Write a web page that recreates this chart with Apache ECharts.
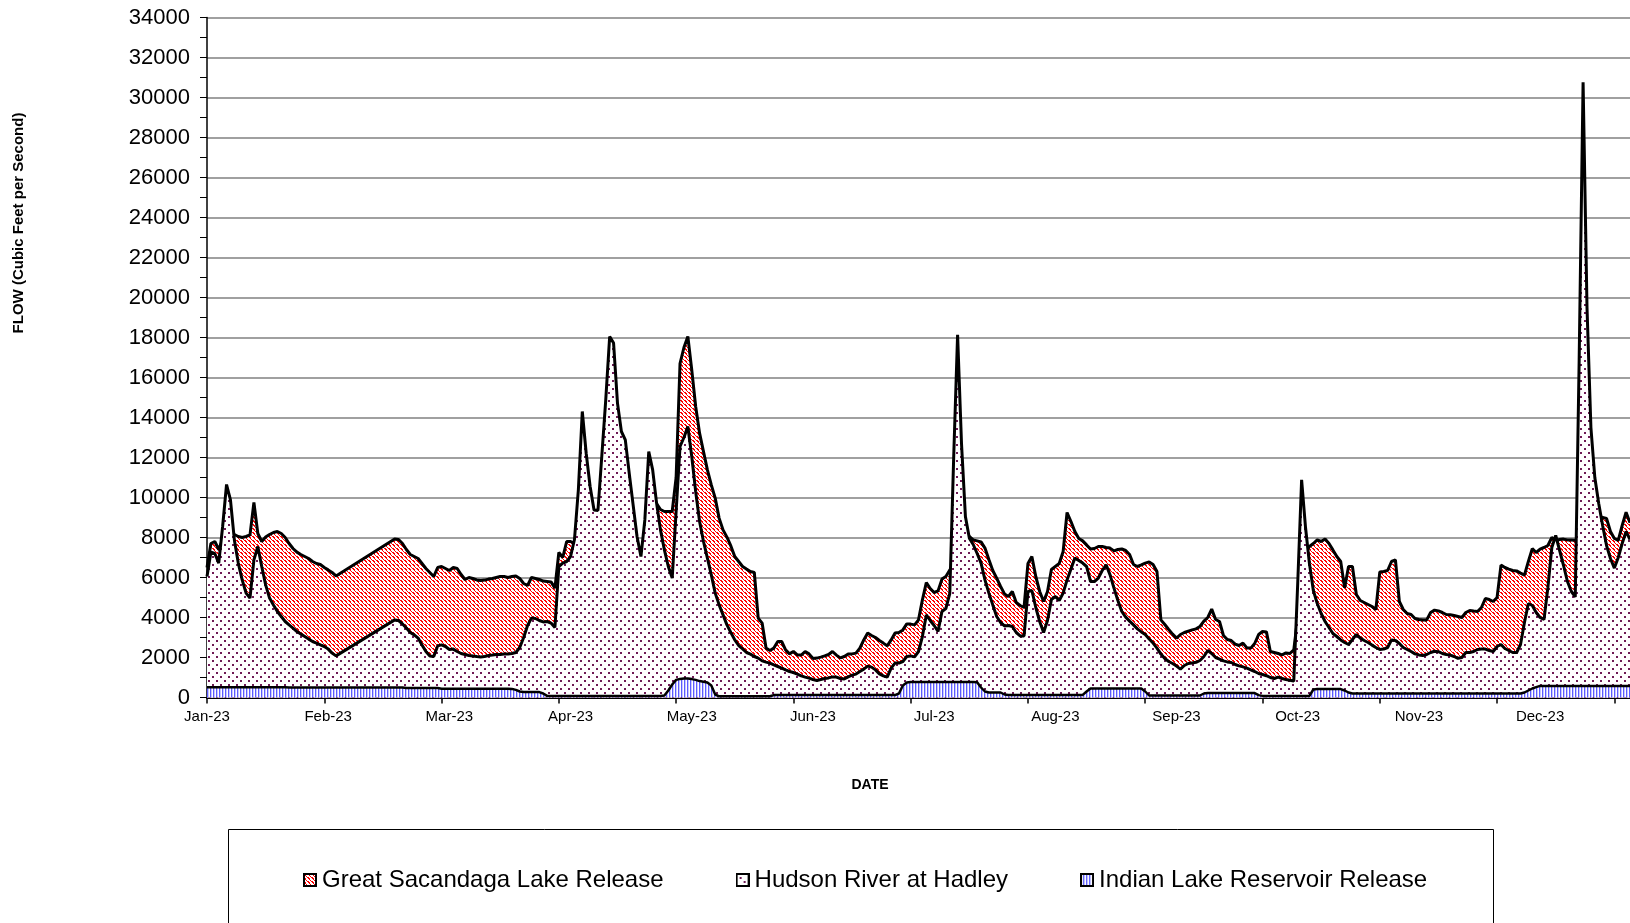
<!DOCTYPE html>
<html>
<head>
<meta charset="utf-8">
<script src="https://cdn.jsdelivr.net/npm/echarts@6/dist/echarts.min.js"></script>
<style>
html, body { margin: 0; padding: 0; background: #fff; }
#chart { width: 1630px; height: 923px; }
</style>
</head>
<body>
<div id="chart"></div>
<script>
// day 0 = 1 Jan 2023, one value per day (null = no reading, line is joined)
var monthLabels = ['Jan-23', 'Feb-23', 'Mar-23', 'Apr-23', 'May-23', 'Jun-23',
  'Jul-23', 'Aug-23', 'Sep-23', 'Oct-23', 'Nov-23', 'Dec-23'];
var labelDays = [0, 31, 62, 93, 124, 155, 186, 217, 248, 279, 310, 341];
var tickDays = [0, 30, 60, 90, 120, 150, 180, 210, 240, 270, 300, 330, 360];
var seriesNames = ['Great Sacandaga Lake Release', 'Hudson River at Hadley', 'Indian Lake Reservoir Release'];

var sacandaga = [
  6500, 7700, 7800, 7400, 7900, 8100, 8100, 8150, 8050, 8000,
  8050, 8130, 9750, 8200, 7800, 8020, 8150, 8250, 8300, 8200,
  8000, 7700, 7450, 7270, 7150, 7050, 6950, 6800, 6700, 6650,
  6500, 6380, 6250, 6080, null, null, null, null, null, null,
  null, null, null, null, null, null, null, null, 7920, 7900,
  7700, 7400, 7150, 7050, 6950, 6700, 6450, 6250, 6050, 6500,
  6550, 6450, 6350, 6500, 6450, 6150, 5900, 6000, 5950, 5880,
  5850, 5870, 5920, 5950, 6000, 6050, 6050, 6000, 6050, 6080,
  5950, 5700, 5600, 6000, 5950, 5900, 5820, 5800, 5780, 5470,
  7250, 7000, 7800, 7800, 7700, 7800, 8000, 8000, 8000, 8200,
  8200, 8200, 8200, 8000, 8000, 7900, 7800, 7700, 7600, 7500,
  7400, 7300, 7500, 9000, 9880, 9700, 9400, 9300, 9300, 9300,
  11000, 16700, 17500, 18050, 16380, 14550, 13220, 12300, 11380, 10630,
  9970, 8970, 8380, 8020, 7580, 7050, 6800, 6550, 6420, 6300,
  6250, 3970, 3720, 2470, 2350, 2470, 2800, 2800, 2380, 2180,
  2300, 2130, 2120, 2300, 2180, 1950, 1970, 2020, 2080, 2150,
  2300, 2120, 1980, 2050, 2170, 2180, 2220, 2470, 2880, 3220,
  3100, 3000, 2850, 2720, 2580, 2880, 3220, 3250, 3380, 3680,
  3670, 3630, 3880, 4880, 5750, 5450, 5250, 5330, 5920, 6050,
  6380, 6500, 7000, 7500, 8000, 8050, 7880, 7830, 7780, 7470,
  6900, 6350, 5970, 5550, 5180, 5050, 5300, 4750, 4600, 4500,
  6700, 7050, 6050, 5300, 4800, 5300, 6400, 6550, 6700, 7300,
  9250, 8800, 8300, 7950, 7830, 7630, 7420, 7450, 7550, 7550,
  7500, 7470, 7330, 7400, 7430, 7350, 7150, 6650, 6550, 6630,
  6720, 6780, 6650, 6300, 3880, 3650, 3400, 3170, 2970, 3150,
  3250, 3320, 3380, 3430, 3550, 3820, 4000, 4420, 3900, 3800,
  3100, 2900, 2850, 2670, 2600, 2720, 2480, 2470, 2700, 3150,
  3300, 3280, 2300, 2250, 2200, 2130, 2230, 2200, 2380, 4000,
  6500, 7300, 7550, 7700, 7880, 7800, 7930, 7700, 7380, 7050,
  6800, 5480, 6550, 6550, 5150, 4850, 4750, 4650, 4550, 4400,
  6280, 6300, 6350, 6800, 6880, 4800, 4400, 4200, 4150, 3950,
  3900, 3880, 3880, 4250, 4370, 4330, 4250, 4150, 4140, 4100,
  4050, 4000, 4250, 4350, 4320, 4300, 4500, 4950, 4900, 4800,
  5000, 6620, 6500, 6420, 6350, 6330, 6220, 6120, 6800, 7440,
  7250, 7420, 7500, 7600, 8000, 7850, 7900, 7920, 7880, 7880,
  7860, 8000, 8500, 9000, 9000, 9000, 9090, 9000, 8950, 8300,
  7950, 7860, 8600, 9260, 8740
];

var hadley = [
  6050, 7270, 7200, 6720, 8550, 10650, 9880, 7880, 6720, 5880,
  5220, 4970, 6880, 7550, 6550, 5630, 4970, 4630, 4300, 4050,
  3800, 3630, 3470, 3300, 3170, 3050, 2920, 2800, 2720, 2630,
  2550, 2420, 2220, 2080, null, null, null, null, null, null,
  null, null, null, null, null, null, null, null, 3880, 3850,
  3680, 3470, 3250, 3130, 2970, 2630, 2300, 2080, 2050, 2580,
  2630, 2550, 2400, 2420, 2300, 2200, 2150, 2100, 2080, 2050,
  2030, 2050, 2100, 2120, 2150, 2150, 2170, 2170, 2200, 2250,
  2500, 3000, 3600, 3970, 3950, 3850, 3780, 3800, 3720, 3500,
  6550, 6720, 6800, 7050, 7900, 10400, 14300, 12200, 10550, 9380,
  9350, 12100, 14880, 18050, 17720, 14720, 13300, 12880, 11220, 9630,
  8050, 7050, 8880, 12300, 11380, 9720, 8380, 7380, 6550, 5970,
  9300, 12550, 13000, 13550, 12050, 10300, 8800, 7800, 6970, 6130,
  5220, 4630, 4130, 3630, 3250, 2880, 2600, 2430, 2250, 2170,
  2050, 1970, 1830, 1770, 1720, 1630, 1550, 1470, 1380, 1300,
  1250, 1170, 1080, 1020, 970, 900, 850, 900, 950, 980,
  1030, 1020, 950, 930, 1030, 1120, 1170, 1300, 1420, 1570,
  1520, 1380, 1180, 1080, 1020, 1470, 1720, 1720, 1800, 2050,
  2080, 2030, 2300, 3050, 4130, 3850, 3600, 3300, 4300, 4450,
  5200, 12000, 18130, 12700, 9050, 7970, 7650, 7200, 6720, 5880,
  5220, 4630, 4050, 3750, 3580, 3600, 3550, 3250, 3080, 3080,
  5300, 5350, 4500, 3800, 3250, 3850, 4900, 5050, 4850, 5220,
  5880, 6420, 6970, 6850, 6720, 6550, 5800, 5800, 5970, 6350,
  6630, 6130, 5470, 4850, 4300, 4020, 3820, 3630, 3430, 3280,
  3150, 2930, 2720, 2470, 2170, 1950, 1800, 1700, 1570, 1420,
  1600, 1700, 1730, 1760, 1850, 2050, 2350, 2200, 2000, 1920,
  1830, 1780, 1750, 1650, 1580, 1530, 1470, 1380, 1300, 1200,
  1150, 1090, 1000, 950, 1020, 950, 900, 860, 820, 5700,
  10880, 8500, 6700, 5350, 4700, 4200, 3800, 3500, 3200, 3050,
  2880, 2750, 2650, 2900, 3150, 2970, 2850, 2750, 2620, 2500,
  2400, 2420, 2500, 2880, 2850, 2700, 2500, 2400, 2300, 2180,
  2130, 2100, 2150, 2250, 2310, 2290, 2200, 2150, 2120, 2050,
  1960, 2000, 2250, 2250, 2300, 2400, 2420, 2420, 2350, 2300,
  2550, 2650, 2450, 2350, 2250, 2250, 2650, 3750, 4700, 4600,
  4250, 4000, 3900, 5500, 7500, 8100, 7350, 6600, 5800, 5300,
  5030, 16900, 30760, 19500, 13500, 11000, 9700, 8600, 7600, 6950,
  6470, 7000, 7700, 8300, 7900
];

var indianLake = [
  510, 510, 510, 510, 510, 510, 510, 510, 510, 510,
  510, 510, 510, 510, 510, 510, 510, 510, 510, 510,
  510, 500, 500, 500, 500, 500, 500, 500, 500, 500,
  500, 500, 500, 500, 500, 500, 500, 500, 500, 500,
  500, 500, 500, 500, 500, 500, 500, 500, 500, 500,
  500, 470, 470, 470, 470, 470, 470, 470, 470, 470,
  440, 440, 440, 440, 440, 440, 440, 440, 440, 440,
  440, 440, 440, 440, 440, 440, 440, 440, 430, 380,
  300, 270, 270, 270, 270, 270, 200, 80, 80, 80,
  80, 80, 80, 80, 80, 80, 80, 80, 80, 80,
  80, 80, 80, 80, 80, 80, 80, 80, 80, 80,
  80, 80, 80, 80, 80, 80, 80, 100, 350, 650,
  880, 930, 950, 950, 920, 880, 820, 790, 750, 600,
  150, 60, 60, 60, 60, 60, 60, 60, 60, 60,
  60, 60, 60, 60, 60, 120, 120, 120, 120, 120,
  120, 120, 120, 120, 120, 120, 120, 120, 120, 120,
  120, 120, 120, 120, 120, 120, 120, 120, 120, 120,
  120, 120, 120, 120, 120, 120, 120, 200, 600, 750,
  780, 780, 780, 780, 780, 780, 780, 780, 780, 780,
  780, 780, 780, 780, 780, 780, 780, 760, 500, 300,
  250, 250, 250, 250, 150, 130, 130, 130, 130, 130,
  130, 130, 130, 130, 130, 130, 130, 130, 130, 130,
  130, 130, 130, 130, 130, 300, 450, 450, 450, 450,
  450, 450, 450, 450, 450, 450, 450, 450, 450, 450,
  300, 100, 100, 100, 100, 100, 100, 100, 100, 100,
  100, 100, 100, 100, 100, 200, 220, 220, 220, 220,
  220, 220, 220, 220, 220, 220, 220, 220, 220, 120,
  80, 80, 80, 80, 80, 80, 80, 80, 80, 80,
  80, 80, 80, 400, 420, 420, 420, 420, 420, 420,
  420, 350, 250, 200, 200, 200, 200, 200, 200, 200,
  200, 200, 200, 200, 200, 200, 200, 200, 200, 200,
  200, 200, 200, 200, 200, 200, 200, 200, 200, 200,
  200, 200, 200, 200, 200, 200, 200, 200, 200, 200,
  200, 200, 200, 200, 200, 200, 200, 250, 350, 450,
  520, 580, 580, 580, 580, 580, 580, 580, 580, 580,
  580, 580, 580, 580, 580, 580, 580, 580, 580, 580,
  580, 580, 580, 580, 580
];

function toPairs(arr) {
  var out = [];
  for (var i = 0; i < arr.length; i++) {
    if (arr[i] != null) out.push([i, arr[i]]);
  }
  return out;
}

function makeTile(w, h, paint) {
  var c = document.createElement('canvas');
  c.width = w;
  c.height = h;
  var ctx = c.getContext('2d');
  ctx.fillStyle = '#fff';
  ctx.fillRect(0, 0, w, h);
  paint(ctx);
  return c;
}

// red "\" hatch, dashed diagonals
var hatchTile = makeTile(8, 8, function (ctx) {
  ctx.fillStyle = '#ff0000';
  for (var y = 0; y < 8; y++) {
    for (var x = 0; x < 8; x++) {
      var k = (x - y + 8) % 4;
      if (k === 0 || (k === 1 && y % 4 < 2)) ctx.fillRect(x, y, 1, 1);
    }
  }
});
// purple dots
var dotTile = makeTile(8, 8, function (ctx) {
  ctx.fillStyle = '#6e1a55';
  ctx.fillRect(0, 0, 2, 2);
  ctx.fillRect(4, 4, 2, 2);
});
// blue vertical stripes
var stripeTile = makeTile(3, 3, function (ctx) {
  ctx.fillStyle = '#5c5cff';
  ctx.fillRect(0, 0, 1, 3);
  ctx.fillStyle = '#c8c8ff';
  ctx.fillRect(1, 0, 1, 3);
});

function legendIcon(tile) {
  var c = document.createElement('canvas');
  c.width = 14;
  c.height = 14;
  var ctx = c.getContext('2d');
  ctx.fillStyle = ctx.createPattern(tile, 'repeat');
  ctx.fillRect(0, 0, 14, 14);
  ctx.strokeStyle = '#000';
  ctx.lineWidth = 2;
  ctx.strokeRect(1, 1, 12, 12);
  return 'image://' + c.toDataURL();
}

var font = 'Liberation Sans, Arial, sans-serif';

var option = {
  animation: false,
  backgroundColor: '#fff',
  textStyle: { fontFamily: font },
  grid: { left: 207, right: 0, top: 17.5, bottom: 225.5 },
  legend: {
    left: 298,
    top: 861,
    itemWidth: 14,
    itemHeight: 14,
    itemGap: 72,
    selectedMode: false,
    textStyle: { fontSize: 24, color: '#000', lineHeight: 28, fontFamily: font },
    data: [
      { name: seriesNames[0], icon: legendIcon(hatchTile) },
      { name: seriesNames[1], icon: legendIcon(dotTile) },
      { name: seriesNames[2], icon: legendIcon(stripeTile) }
    ]
  },
  xAxis: {
    type: 'value',
    min: 0,
    max: 364,
    axisLine: { show: true, lineStyle: { color: '#000', width: 2 } },
    axisTick: { show: true, length: 6, customValues: tickDays, lineStyle: { color: '#000', width: 1.5 } },
    axisLabel: {
      customValues: labelDays,
      fontSize: 15,
      color: '#000',
      margin: 12,
      formatter: function (v) {
        return monthLabels[labelDays.indexOf(v)] || '';
      }
    },
    splitLine: { show: false }
  },
  yAxis: {
    type: 'value',
    min: 0,
    max: 34000,
    interval: 2000,
    axisLine: { show: true, lineStyle: { color: '#000', width: 1.5 } },
    axisTick: { show: true, length: 7, lineStyle: { color: '#000' } },
    minorTick: { show: true, splitNumber: 2, length: 7, lineStyle: { color: '#000' } },
    axisLabel: {
      fontSize: 22,
      color: '#000',
      margin: 17,
      formatter: function (v) { return String(v); }
    },
    splitLine: { show: true, lineStyle: { color: '#808080', width: 1.5 } }
  },
  graphic: [
    {
      type: 'text',
      x: 19,
      y: 223,
      rotation: Math.PI / 2,
      style: {
        text: 'FLOW (Cubic Feet per Second)',
        font: 'bold 15px ' + font,
        fill: '#000',
        align: 'center',
        verticalAlign: 'middle'
      }
    },
    {
      type: 'text',
      x: 870,
      y: 785,
      style: {
        text: 'DATE',
        font: 'bold 14px ' + font,
        fill: '#000',
        align: 'center',
        verticalAlign: 'middle'
      }
    },
    {
      type: 'rect',
      shape: { x: 228.5, y: 829.5, width: 1265, height: 150 },
      style: { fill: 'none', stroke: '#000', lineWidth: 1 }
    }
  ],
  series: [
    {
      name: seriesNames[0],
      type: 'line',
      data: toPairs(sacandaga),
      symbol: 'none',
      z: 2,
      itemStyle: { color: '#000' },
      lineStyle: { color: '#000', width: 3 },
      areaStyle: { color: { image: hatchTile, repeat: 'repeat' }, opacity: 1 }
    },
    {
      name: seriesNames[1],
      type: 'line',
      data: toPairs(hadley),
      symbol: 'none',
      z: 3,
      itemStyle: { color: '#000' },
      lineStyle: { color: '#000', width: 3 },
      areaStyle: { color: { image: dotTile, repeat: 'repeat' }, opacity: 1 }
    },
    {
      name: seriesNames[2],
      type: 'line',
      data: toPairs(indianLake),
      symbol: 'none',
      z: 4,
      itemStyle: { color: '#000' },
      lineStyle: { color: '#000', width: 2.5 },
      areaStyle: { color: { image: stripeTile, repeat: 'repeat' }, opacity: 1 }
    }
  ]
};

var myChart = echarts.init(document.getElementById('chart'));
myChart.setOption(option);
</script>
</body>
</html>
